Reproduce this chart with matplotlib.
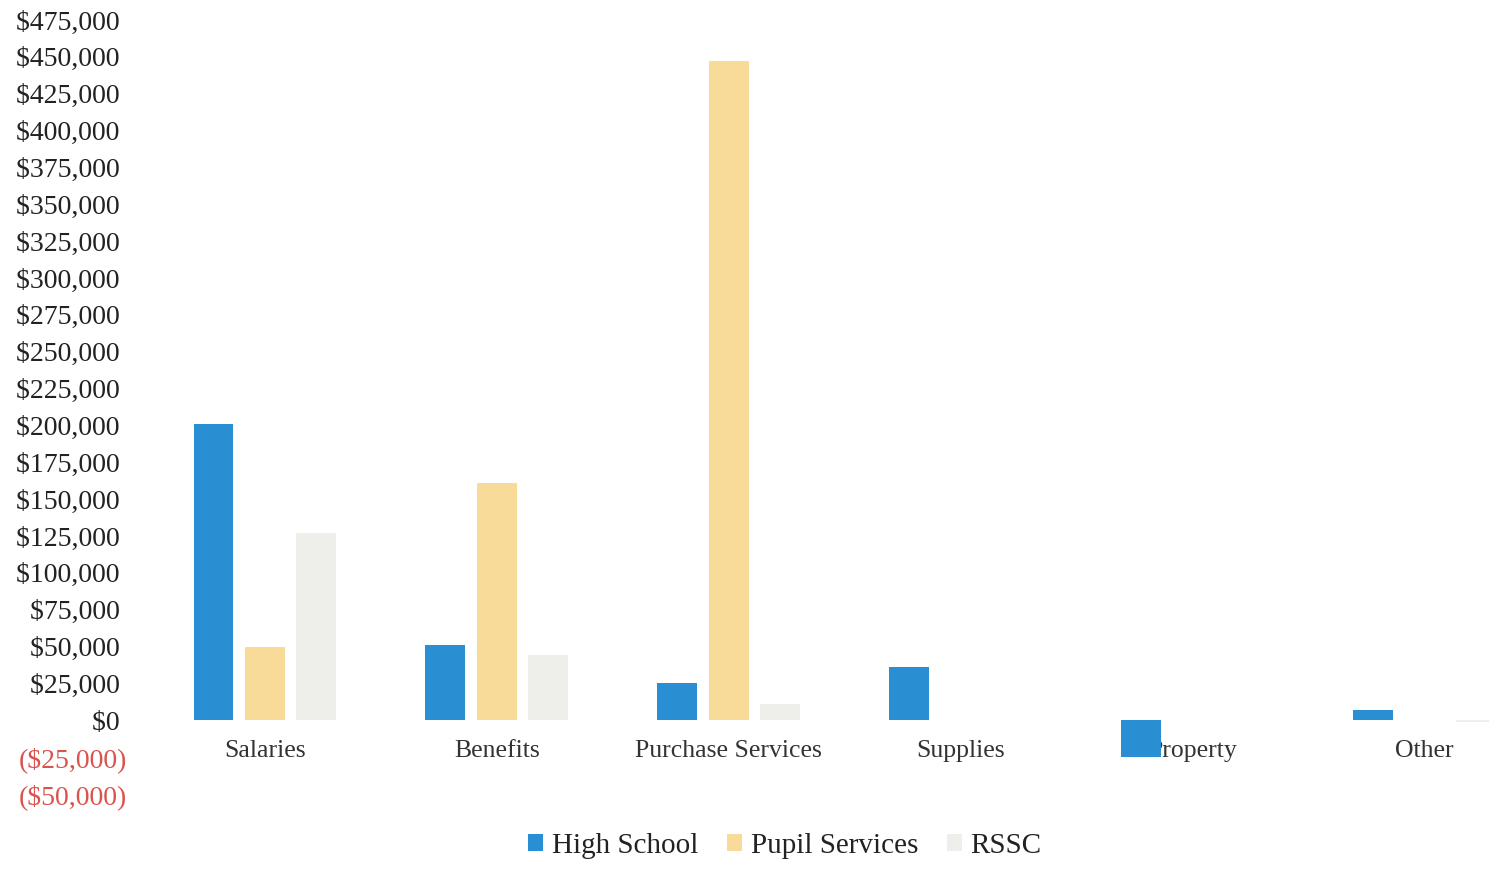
import matplotlib
matplotlib.use("Agg")
import matplotlib.pyplot as plt
import numpy as np
from matplotlib.ticker import FuncFormatter, MultipleLocator

categories = ["Salaries", "Benefits", "Purchase Services", "Supplies", "Property", "Other"]
high_school = [201000, 51000, 25000, 36000, -25000, 7000]
pupil_services = [50000, 161000, 447000, 0, 0, 0]
rssc = [127000, 44000, 11000, 0, 0, -1500]
series_names = ["High School", "Pupil Services", "RSSC"]
colors = ["#2A8ED2", "#F8DB98", "#EEEEEB"]

plt.rcParams["font.family"] = ["Liberation Serif", "DejaVu Serif"]

fig = plt.figure(figsize=(14.89, 8.69), dpi=100)
ax = fig.add_axes([149 / 1489, 1 - 794 / 869, (1540 - 149) / 1489, (794 - 20) / 869])

x = np.arange(len(categories))
w = 0.172
off = 0.222
for i, (vals, name, c) in enumerate(zip([high_school, pupil_services, rssc], series_names, colors)):
    ax.bar(x + (i - 1) * off, vals, width=w, color=c, label=name, zorder=2)

ax.set_xlim(-0.5, len(categories) - 0.5)
ax.set_ylim(-50000, 475000)
ax.yaxis.set_major_locator(MultipleLocator(25000))

def fmt(v, pos):
    if v < 0:
        return "(${:,.0f})".format(-v)
    return "${:,.0f} ".format(v)

ax.yaxis.set_major_formatter(FuncFormatter(fmt))
for sp in ax.spines.values():
    sp.set_visible(False)
ax.spines["bottom"].set_position(("data", 0))
ax.tick_params(axis="y", length=0, pad=16, labelsize=20, labelcolor="#222222")
ax.tick_params(axis="x", length=0, pad=14, labelsize=18.5, labelcolor="#333333")
ax.set_xticks(x)
ax.set_xticklabels(categories)
for lab, v in zip(ax.get_yticklabels(), ax.get_yticks()):
    if v < 0:
        lab.set_color("#D9534F")

handles, labels = ax.get_legend_handles_labels()
leg = fig.legend(handles, labels, loc="center", bbox_to_anchor=(785 / 1489, 1 - 846 / 869),
                 ncol=3, frameon=False, fontsize=21, handlelength=0.5, handleheight=0.5,
                 handletextpad=0.3, columnspacing=1.0, labelcolor="#222222")

fig.savefig("out.png", dpi=100)
